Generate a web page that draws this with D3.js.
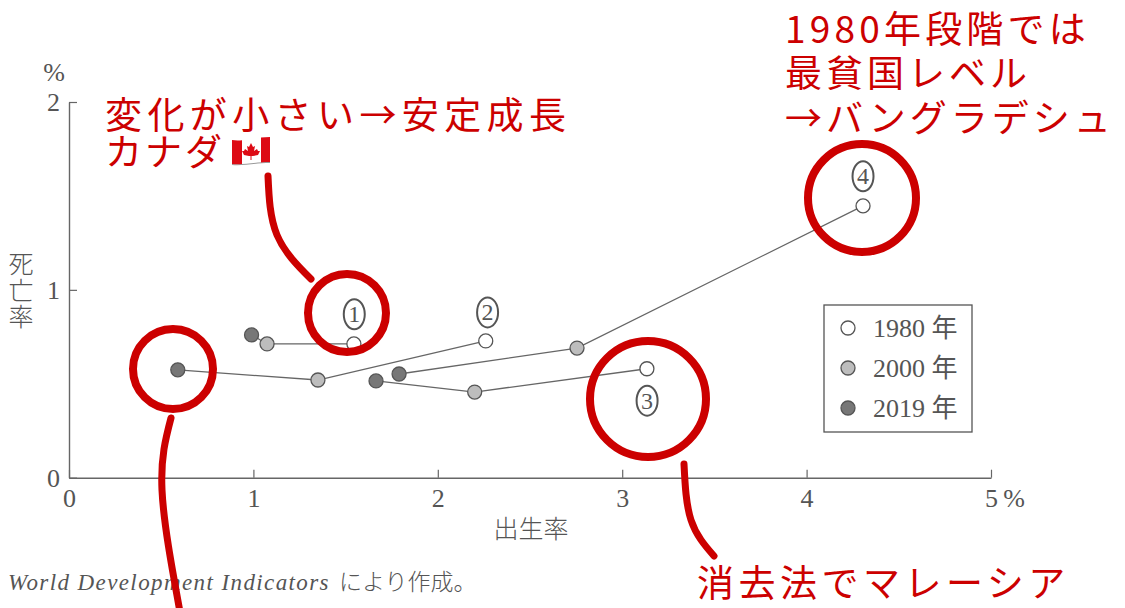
<!DOCTYPE html>
<html>

<head>
    <meta charset="UTF-8">
    <style>
        html, body { margin: 0; padding: 0; background: #fff; }
        svg { display: block; }
        .ink { fill: #555; font-family: "Liberation Serif", "Noto Sans CJK JP", serif; }
        .tick text { fill: #555; font-family: "Liberation Serif", serif; font-size: 26px; }
        .red { fill: #cc0000; font-family: "Noto Sans CJK JP", sans-serif; font-size: 37px; font-weight: 400; }
        .redline { fill: none; stroke: #cc0000; stroke-linecap: round; }
    </style>
</head>

<body>
    <svg></svg>
    <script src="https://d3js.org/d3.v7.min.js"></script>

    <script>

        let width = 1125, height = 608;

        // values (birth rate, death rate in %)
        const years = ["1980", "2000", "2019"];
        const yearFills = ["#ffffff", "#bdbdbd", "#777777"];
        const labels = ["1", "2", "3", "4"];
        const birth1 = [1.545, 1.074, 0.99];
        const death1 = [0.712, 0.712, 0.76];
        const birth2 = [2.26, 1.35, 0.59];
        const death2 = [0.728, 0.52, 0.574];
        const birth3 = [3.134, 2.2, 1.665];
        const death3 = [0.58, 0.456, 0.515];
        const birth4 = [4.306, 2.755, 1.79];
        const death4 = [1.447, 0.69, 0.552];
        const xTicks = [0, 1, 2, 3, 4, 5];
        const yTicks = [0, 1, 2];

        let svg = d3.select("svg")
            .attr("width", width)
            .attr("height", height)
            .attr("viewBox", "0 0 " + width + " " + height)

        let x = d3.scaleLinear().domain([0, 5]).range([69, 991]);
        let y = d3.scaleLinear().domain([0, 2]).range([477.7, 102]);

        // axes
        svg.append("g")
            .attr("transform", "translate(0," + y(0) + ")")
            .call(d3.axisBottom(x).tickValues(xTicks).tickSize(-8).tickSizeOuter(0).tickPadding(11).tickFormat(d3.format("d")));
        svg.append("g")
            .attr("transform", "translate(" + x(0) + ",0)")
            .call(d3.axisLeft(y).tickValues(yTicks).tickSize(-8).tickSizeOuter(0).tickPadding(9).tickFormat(d3.format("d")));
        svg.selectAll(".domain").style("stroke", "#666").style("stroke-width", 1.4);
        svg.selectAll(".tick line").style("stroke", "#666").style("stroke-width", 1.2);

        svg.append("text").attr("class", "ink").attr("x", 54).attr("y", 81).attr("text-anchor", "middle").style("font-size", "26px").text("%");
        svg.append("text").attr("class", "ink").attr("x", 1014).attr("y", 507).attr("text-anchor", "middle").style("font-size", "26px").text("%");

        // axis titles
        ["死", "亡", "率"].forEach((c, i) => {
            svg.append("text").attr("class", "ink").attr("x", 21).attr("y", 273 + i * 26.5)
                .attr("text-anchor", "middle").style("font-size", "25px").style("font-weight", 300).text(c);
        });
        svg.append("text").attr("class", "ink").attr("x", 531).attr("y", 538)
            .attr("text-anchor", "middle").style("font-size", "25px").style("font-weight", 300).text("出生率");

        // source note
        let note = svg.append("text").attr("class", "ink").attr("x", 8).attr("y", 590).style("font-size", "23px");
        note.append("tspan").style("font-style", "italic").style("letter-spacing", "1.4px").text("World Development Indicators");
        note.append("tspan").attr("dx", 9).style("font-size", "23px").style("font-weight", 300).text("により作成。");

        // lines and points
        const births = [birth1, birth2, birth3, birth4];
        const deaths = [death1, death2, death3, death4];
        let line = d3.line().x(d => x(d[0])).y(d => y(d[1]));

        births.forEach((b, s) => {
            let pts = b.map((v, i) => [v, deaths[s][i], i]);
            svg.append("path").attr("d", line(pts)).style("fill", "none").style("stroke", "#666").style("stroke-width", 1.3);
            svg.append("g").selectAll("circle").data(pts).enter().append("circle")
                .attr("cx", d => x(d[0]))
                .attr("cy", d => y(d[1]))
                .attr("r", 7)
                .style("fill", d => yearFills[d[2]])
                .style("stroke", "#555")
                .style("stroke-width", 1.3);
        });

        // circled numbers
        const labelX = [1.547, 2.27, 3.135, 4.306];
        const labelY = [0.87, 0.88, 0.41, 1.605];
        labels.forEach((l, i) => {
            let g = svg.append("g").attr("transform", "translate(" + x(labelX[i]) + "," + y(labelY[i]) + ")");
            g.append("ellipse").attr("rx", 10.5).attr("ry", 15).style("fill", "none").style("stroke", "#555").style("stroke-width", 2);
            g.append("text").attr("class", "ink").attr("y", 8).attr("text-anchor", "middle").style("font-size", "24px").text(l);
        });

        // legend
        svg.append("rect").attr("x", 824).attr("y", 305).attr("width", 148).attr("height", 127)
            .style("fill", "#fff").style("stroke", "#555").style("stroke-width", 1.3);
        let legend = svg.append("g").selectAll("g").data(years).enter().append("g")
            .attr("transform", (d, i) => "translate(848," + (328 + i * 40) + ")");
        legend.append("circle").attr("r", 7).style("fill", (d, i) => yearFills[i]).style("stroke", "#555").style("stroke-width", 1.3);
        legend.append("text").attr("class", "ink").attr("x", 25).attr("y", 9).style("font-size", "26px")
            .text(d => d + " 年");

        // hand written notes on top
        const rings = [[347, 313, 39], [173, 369, 40], [648, 399, 58], [862, 198, 54]];
        svg.append("g").selectAll("circle").data(rings).enter().append("circle")
            .attr("class", "redline")
            .attr("cx", d => d[0]).attr("cy", d => d[1]).attr("r", d => d[2])
            .style("stroke-width", 8);

        let curve = d3.line().curve(d3.curveNatural);
        const leaders = [
            [[268, 176], [277, 235], [311, 279]],
            [[171, 418], [162, 490], [180, 612]],
            [[684, 464], [691, 520], [714, 556]]
        ];
        leaders.forEach(p => {
            svg.append("path").attr("class", "redline").attr("d", curve(p)).style("stroke-width", 7);
        });

        const notes = [
            ["変化が小さい→安定成長", 105, 129, 5.4],
            ["カナダ", 105, 166, 3],
            ["1980年段階では", 785, 43, 4.2],
            ["最貧国レベル", 785, 87, 4],
            ["→バングラデシュ", 785, 132, 4],
            ["消去法でマレーシア", 697, 597, 4.5]
        ];
        notes.forEach(n => {
            svg.append("text").attr("class", "red").attr("x", n[1]).attr("y", n[2])
                .style("letter-spacing", n[3] + "px")
                .text(n[0]);
        });

        // Canadian flag
        let flag = svg.append("g").attr("transform", "translate(232,137)");
        flag.append("path").attr("d", "M0,3 C10,5 24,0 38,0 V25 C24,25 12,28 0,27 Z").attr("transform", "translate(0,1)").style("fill", "#999");
        flag.append("path").attr("d", "M0,3 C10,5 24,0 38,0 V25 C24,25 12,28 0,27 Z").style("fill", "#fff");
        flag.append("path").attr("d", "M0,3 C3,3.6 7,3.6 10,3.2 V27 C7,27.3 3,27.2 0,27 Z").style("fill", "#dd0a14");
        flag.append("path").attr("d", "M29,0.6 C32,0.2 35,0 38,0 V25 C35,25 32,25.2 29,25.4 Z").style("fill", "#dd0a14");
        flag.append("path").attr("d", "M19,6 L21,10 L23,9 L22,14 L25,12 L26,14 L28,14 L26,18 L21,19 L19.5,19 V23 H18.5 V19 L17,19 L12,18 L10,14 L12,14 L13,12 L16,14 L15,9 L17,10 Z").style("fill", "#dd0a14");

    </script>

</body>

</html>
